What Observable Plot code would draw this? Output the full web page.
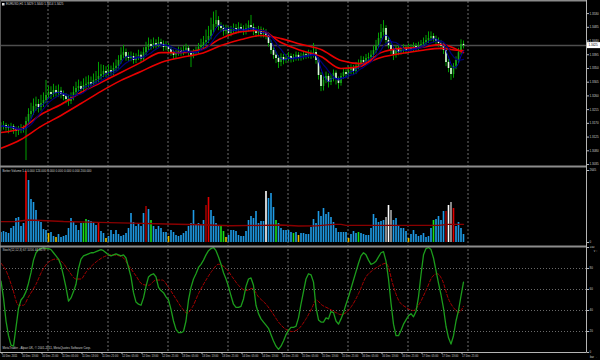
<!DOCTYPE html>
<html><head><meta charset="utf-8">
<script src="https://cdn.jsdelivr.net/npm/d3@7"></script>
<script src="https://cdn.jsdelivr.net/npm/@observablehq/plot@0.6"></script>
<style>
html,body{margin:0;padding:0;background:#000;}
#chart{position:relative;width:600px;height:360px;background:#000;overflow:hidden;}
#chart svg{position:absolute;left:0;}
</style></head><body><div id="chart"></div>
<script>
// ---------------- DATA ----------------
const symbol = "EURUSD,H1";
const priceBase = 1.3;            // prices stored as pips above 1.3000
const firstOpenPips = 156;
const closePips = [160,163,156,153,160,150,143,147,153,150,
176,199,209,225,232,222,235,245,261,271,
265,278,268,275,265,258,248,242,255,271,
284,291,281,294,298,304,298,311,314,324,
330,340,334,343,337,350,357,376,393,402,
386,383,389,376,386,393,380,402,419,429,
422,432,425,435,429,419,425,412,402,393,
399,409,402,409,416,399,393,402,409,419,
425,435,442,455,475,494,507,488,481,471,
478,465,475,481,475,484,478,471,481,491,
484,471,465,475,462,468,458,432,409,393,
383,370,386,376,383,389,380,386,393,386,
389,396,393,399,393,402,376,327,291,311,
324,304,317,334,314,301,324,337,330,343,
350,340,357,363,376,370,383,386,393,409,
425,448,468,481,442,425,409,393,416,402,
409,416,406,419,412,422,416,425,429,435,
442,448,455,445,439,432,422,409,370,350,
330,357,376,402,429,425];
const highPips = [172,176,170,165,170,166,158,160,166,162,
190,218,236,250,256,248,262,270,311,292,
290,298,292,296,288,276,268,262,270,290,
305,312,306,316,322,326,322,332,340,370,
362,360,356,362,358,368,378,392,418,426,
414,402,404,400,398,410,404,418,436,450,
444,450,444,452,446,440,438,432,420,410,
410,420,418,424,430,424,408,412,420,432,
446,455,476,488,515,535,540,520,500,492,
492,488,488,496,494,500,496,490,496,506,
524,496,484,488,486,482,478,466,442,418,
404,392,398,396,396,402,398,396,404,402,
400,406,404,410,408,432,414,386,336,324,
338,332,330,345,342,322,334,348,346,356,
362,360,370,378,390,388,396,400,408,424,
442,466,494,507,490,452,434,418,424,426,
420,428,424,430,428,434,432,436,442,450,
458,470,470,464,456,450,442,432,418,380,
360,366,388,416,444,440];
const lowPips = [144,148,144,136,142,134,124,130,136,138,
48,164,184,196,210,204,210,222,234,248,
248,254,256,256,250,244,234,226,232,244,
260,272,268,270,282,286,284,288,298,304,
312,320,320,324,324,326,340,348,364,382,
374,370,372,364,366,376,368,372,392,408,
410,414,414,418,418,406,408,400,390,380,
382,390,390,392,398,388,353,382,392,398,
408,414,424,432,444,466,484,474,468,456,
460,452,454,464,462,464,466,458,460,470,
472,458,452,454,450,450,444,420,396,380,
366,350,356,362,366,372,368,370,374,374,
374,378,380,382,380,384,364,312,274,276,
300,286,294,306,296,282,292,314,318,320,
330,328,330,346,354,358,360,372,376,384,
398,416,436,456,430,414,396,376,384,392,
394,400,396,398,402,404,406,408,416,420,
426,432,438,434,428,420,410,396,356,336,
311,318,346,366,394,414];
const maSampleBars = [0,8,16,24,32,40,48,56,64,72,80,88,96,104,112,120,128,136,144,152,160,168,176,184,185];
const fastRedPips = [140,153,199,232,271,304,337,370,402,402,412,448,471,475,435,409,389,350,357,402,416,419,429,406,402];
const slowRedPips = [88,117,160,196,235,275,311,340,370,386,399,425,445,458,448,429,412,376,366,386,399,409,416,409,409];
const priceTicks = [1.3530,1.3485,1.3440,1.3395,1.3350,1.3305,1.3260,1.3215,1.3170,1.3125,1.3080,1.3035];

const volumes = [367,404,367,331,514,588,882,919,588,698,
2609,2278,1580,1470,1176,808,735,478,441,331,
367,220,184,294,184,220,257,514,882,735,
625,441,698,698,845,808,772,735,625,698,
404,331,147,220,441,294,441,294,220,257,
331,514,1065,735,588,698,588,1065,1323,1212,
808,588,478,588,514,367,367,220,441,367,
257,220,257,331,404,588,698,1176,661,698,
625,808,1359,1653,1176,955,698,625,588,404,
184,257,441,441,404,257,220,220,404,808,
955,882,1139,698,772,772,1874,1617,1800,1286,
808,698,514,441,441,441,367,331,367,257,
331,331,294,294,551,845,698,1139,955,1249,
1029,1102,919,735,514,367,367,367,367,147,
294,404,331,367,331,294,257,257,514,1029,
882,735,772,808,919,1359,1176,808,882,588,
514,514,404,147,294,441,294,220,257,331,
184,220,514,808,845,955,808,1139,1139,1359,
1470,1249,588,735,514,294];
// n normal, r climax, d climax (dark), g churn, y low, w white, s silver
const volumeTypes = "nnnnnnnnnn"+"rnnnnnnnny"+"nnynnnnnnn"+"nnnggnnnnr"+"nnynnnnnnn"+
  "nnnnnnnndn"+"gnnnnnnynn"+"nnnnnnnnnn"+"nndrnnnngg"+"ynnnnnnnnn"+
  "nnnnnnwnnn"+"gnnnnnngny"+"nnnnnnnnnn"+"nnnnnnnnny"+"nnngnnnnnn"+
  "nnnnswsnnn"+"nnnynnnnnn"+"nnngnnnndw"+"srnnnn";
const volumeMABars = [0,6,11,16,25,39,52,66,80,92,104,112,119,126,133,136,138,150,162,175,179,185];
const volumeMAVals = [766,770,826,810,770,740,710,678,650,617,630,641,604,610,666,666,629,629,629,629,666,666];
const volumeTicks = [0, 2645];

const stochK = [68,52,30,16,7,6,24,42,50,53,
58,66,76,88,95,98,99,100,99,99,
98,95,92,89,83,73,62,49,52,58,
65,80,89,92,93,94,95,95,96,97,
98,97,95,93,92,93,94,93,92,93,
90,81,72,57,48,46,45,52,63,72,
74,75,72,62,59,57,53,50,41,30,
22,19,19,20,30,50,62,70,75,81,
84,88,93,97,99,100,97,91,84,76,
70,63,54,46,43,43,44,51,63,70,
71,64,45,37,32,29,26,23,17,11,
6,3,6,11,17,21,24,24,25,33,
46,58,70,75,74,67,43,31,29,29,
33,32,39,38,30,27,32,38,46,53,
61,69,77,85,92,95,93,88,84,85,
87,91,95,96,87,70,47,27,16,16,
21,27,31,35,37,34,39,53,74,93,
99,100,98,90,78,66,55,42,25,14,
8,16,30,40,54,67];
const stochDBars = [0,2,4.5,7,9,11,14,16.5,19,22,24.5,27,30,32,34,36.5,39,42,44.5,48.5,51,54,56.5,59,62,64.5,67,70,72.5,74.5,76.5,79,82,84.5,87,90,92.5,95,98,100.5,103,106,108.5,111,114,116.5,119,122,124.5,126,128.5,131,134,136,138,140.5,143,146,148.5,151,154,155,156.5,159,162,165,167,170,172.5,174.5,176.5,179,182,183,185];
const stochDVals = [85,78,62,45,45,53,65,78,86,89,86,78,70,70,76.5,83,88,92,93,91,83,73,65,64,69,69,62,51,42,37.5,43,56,69,78,84,80,72,64,59,61,53,46,38,29,22,20,22.5,32,43,50,45,42,38,36,38,45,56,72,78,82,85,81,67,50,43,40,45,59,72,75,69,51,40,38,44];
const stochLevels = [20,40,60,80];
const stochTicks = [0,20,40,60,80,100];

const gridBars = [19,43,67,91,115,139,163,187];
const dateLabelBars = [0,8,16,24,32,40,48,56,64,72,80,88,96,104,112,120,128,136,144,152,160,168,176,184];
const dateLabels = ["10 Dec 2011","10 Dec 13:00","10 Dec 21:00","11 Dec 05:00","11 Dec 13:00","11 Dec 21:00",
"12 Dec 05:00","12 Dec 13:00","12 Dec 21:00","13 Dec 05:00","13 Dec 13:00","13 Dec 21:00",
"14 Dec 05:00","14 Dec 13:00","14 Dec 21:00","15 Dec 05:00","15 Dec 13:00","15 Dec 21:00",
"16 Dec 05:00","16 Dec 13:00","16 Dec 21:00","17 Dec 05:00","17 Dec 13:00","17 Dec 21:00"];
const volumeTitle = "Better Volume 1.4  0.000 124.000 0.000 0.000 0.000 0.000 200.000";
const stochTitle = "Stoch(12,12,3) 67.1056 44.3079";
const copyright = "MetaTrader - Alpari UK, \u00a9 2001-2011, MetaQuotes Software Corp.";

// ---------------- TABLES ----------------
const toPrice = p => priceBase + p / 10000;
const bars = closePips.map((c, i) => ({
  i,
  open: toPrice(i === 0 ? firstOpenPips : closePips[i - 1]),
  close: toPrice(c), high: toPrice(highPips[i]), low: toPrice(lowPips[i])
}));
const fastRed = maSampleBars.map((b, k) => ({bar: b, v: toPrice(fastRedPips[k])}));
const slowRed = maSampleBars.map((b, k) => ({bar: b, v: toPrice(slowRedPips[k])}));
const volData = volumes.map((v, i) => ({i, vol: v, type: volumeTypes[i]}));
const volMA = volumeMABars.map((b, k) => ({bar: b, v: volumeMAVals[k]}));
const dLine = stochDBars.map((b, k) => ({bar: b, v: stochDVals[k]}));
const last = bars[bars.length - 1];
const lastClose = last.close;
const labelFor = new Map(dateLabelBars.map((b, k) => [b, dateLabels[k]]));

// ---------------- PLOTS ----------------
const FONT = "'Liberation Sans', Arial, sans-serif";
const FS = 3.0;
const FSD = 2.75;
const TXT = "#cfcfcf";
const xDomain = [-0.2, 234.2];
const baseStyle = top => ({background: "transparent", color: TXT, fontFamily: FONT, fontSize: FS + "px", position: "absolute", left: "0px", top: top + "px", maxWidth: "none", height: "auto"});

const pricePlot = Plot.plot({
  width: 600, height: 167, marginTop: 2, marginBottom: 1, marginLeft: 0, marginRight: 14,
  style: baseStyle(0),
  x: {domain: xDomain, axis: null},
  y: {domain: [1.30285, 1.35664], axis: null},
  marks: [
    Plot.ruleY([lastClose], {stroke: "#4e4e4e", strokeWidth: 1.5}),
    Plot.ruleX(bars, {x: "i", y1: "low", y2: "high", stroke: "#00a000", strokeWidth: 1}),
    Plot.ruleX(bars.filter(d => d.close >= d.open), {x: "i", y1: "open", y2: "close", stroke: "#1aa81a", strokeWidth: 1.6}),
    Plot.ruleX(bars.filter(d => d.close < d.open), {x: "i", y1: "open", y2: "close", stroke: "#dcffdc", strokeWidth: 1.6}),
    Plot.line(slowRed, {x: "bar", y: "v", stroke: "#e80000", strokeWidth: 1.6, curve: "monotone-x"}),
    Plot.line(fastRed, {x: "bar", y: "v", stroke: "#e80000", strokeWidth: 1.6, curve: "monotone-x"}),
    Plot.lineY(bars, Plot.windowY({k: 8, anchor: "end", reduce: "mean"}, {x: "i", y: "close", stroke: "#00007a", strokeWidth: 1.2})),
    Plot.lineY(bars, Plot.windowY({k: 4, anchor: "end", reduce: "mean"}, {x: "i", y: "close", stroke: "#0000b0", strokeWidth: 1})),
    Plot.axisY(priceTicks, {anchor: "right", tickSize: 2, tickPadding: 1, fontSize: FS, tickFormat: d => d.toFixed(4), stroke: "#bbbbbb"})
  ]
});

const volPlot = Plot.plot({
  width: 600, height: 79, marginTop: 3, marginBottom: 4, marginLeft: 0, marginRight: 14,
  style: baseStyle(167),
  x: {domain: xDomain, axis: null},
  y: {domain: [0, 2645], axis: null},
  color: {type: "ordinal", domain: ["n","r","d","g","y","w","s"], range: ["#1e9be6","#e00000","#a00000","#18e018","#e6c000","#ffffff","#a8a8a8"]},
  marks: [
    Plot.ruleX(volData, {x: "i", y1: 0, y2: "vol", stroke: "type", strokeWidth: 1.6}),
    Plot.line(volMA, {x: "bar", y: "v", stroke: "#8a0000", strokeWidth: 1.4}),
    Plot.axisY(volumeTicks, {anchor: "right", tickSize: 2, tickPadding: 1, fontSize: FS, tickFormat: d => String(d), stroke: "#bbbbbb"})
  ]
});

const stochPlot = Plot.plot({
  width: 600, height: 114, marginTop: 1, marginBottom: 8, marginLeft: 0, marginRight: 14,
  style: baseStyle(246),
  x: {domain: xDomain, axis: null},
  y: {domain: [0, 100], axis: null},
  marks: [
    Plot.ruleY(stochLevels, {stroke: "#6a6a6a", strokeDasharray: "1,2"}),
    Plot.line(dLine, {x: "bar", y: "v", stroke: "#a80000", strokeWidth: 1, strokeDasharray: "3,2", curve: "monotone-x"}),
    Plot.lineY(stochK, {x: (d, i) => i, y: d => d, stroke: "#1c9c1c", strokeWidth: 1.3}),
    Plot.axisY(stochTicks, {anchor: "right", tickSize: 2, tickPadding: 1, fontSize: FS, tickFormat: d => String(d), stroke: "#bbbbbb"}),
    Plot.axisX(dateLabelBars, {anchor: "bottom", tickSize: 2, tickPadding: 1, fontSize: FSD, textAnchor: "start", dx: 1, tickFormat: d => labelFor.get(d), stroke: "#bbbbbb"})
  ]
});

// ---------------- LAYERS ----------------
const root = d3.select("#chart");
const xs = pricePlot.scale("x");
const bg = root.append("svg").attr("width", 600).attr("height", 360).style("top", "0px");
bg.append("rect").attr("width", 600).attr("height", 360).attr("fill", "#000");
bg.selectAll("line.grid").data(gridBars).join("line")
  .attr("x1", d => xs.apply(d)).attr("x2", d => xs.apply(d))
  .attr("y1", 1).attr("y2", 352)
  .attr("stroke", "#6e6e6e").attr("stroke-dasharray", "2,2").attr("stroke-width", 1);

const node = document.getElementById("chart");
node.appendChild(pricePlot);
node.appendChild(volPlot);
node.appendChild(stochPlot);

const ov = root.append("svg").attr("width", 600).attr("height", 360).style("top", "0px")
  .style("font-family", FONT).style("font-size", FS + "px");
const line = (x1, y1, x2, y2, c, w) => ov.append("line").attr("x1", x1).attr("y1", y1).attr("x2", x2).attr("y2", y2).attr("stroke", c).attr("stroke-width", w);
line(0, 0.75, 586.5, 0.75, "#8a8a8a", 1.5);
line(0.5, 0, 0.5, 352, "#5a5a5a", 1);
line(0, 166.5, 586.5, 166.5, "#8c8c8c", 2);
line(0, 246.5, 586.5, 246.5, "#8c8c8c", 2);
line(586.5, 0, 586.5, 352.5, "#b4b4b4", 1);
line(0, 352.5, 586.5, 352.5, "#b4b4b4", 1);

// current price box
const py = pricePlot.scale("y").apply(lastClose);
ov.append("rect").attr("x", 587).attr("y", py - 3).attr("width", 13).attr("height", 6).attr("fill", "#ffffff");
ov.append("text").attr("x", 588.5).attr("y", py).attr("dy", "0.35em").attr("fill", "#000").text(lastClose.toFixed(4));

// titles
const fmt = v => v.toFixed(4);
ov.append("rect").attr("x", 2).attr("y", 3).attr("width", 2.5).attr("height", 2.5).attr("fill", "#dddddd");
ov.append("text").attr("x", 6).attr("y", 4.3).attr("dy", "0.35em").attr("fill", TXT)
  .text(`${symbol}  ${fmt(last.open)} ${fmt(last.high)} ${fmt(last.low)} ${fmt(last.close)}`);
ov.append("text").attr("x", 2.5).attr("y", 171.3).attr("dy", "0.35em").attr("fill", TXT).text(volumeTitle);
ov.append("text").attr("x", 2.5).attr("y", 250.3).attr("dy", "0.35em").attr("fill", TXT).text(stochTitle);
ov.append("text").attr("x", 2.5).attr("y", 348).attr("dy", "0.35em").attr("fill", TXT).text(copyright);
</script>
</body></html>
